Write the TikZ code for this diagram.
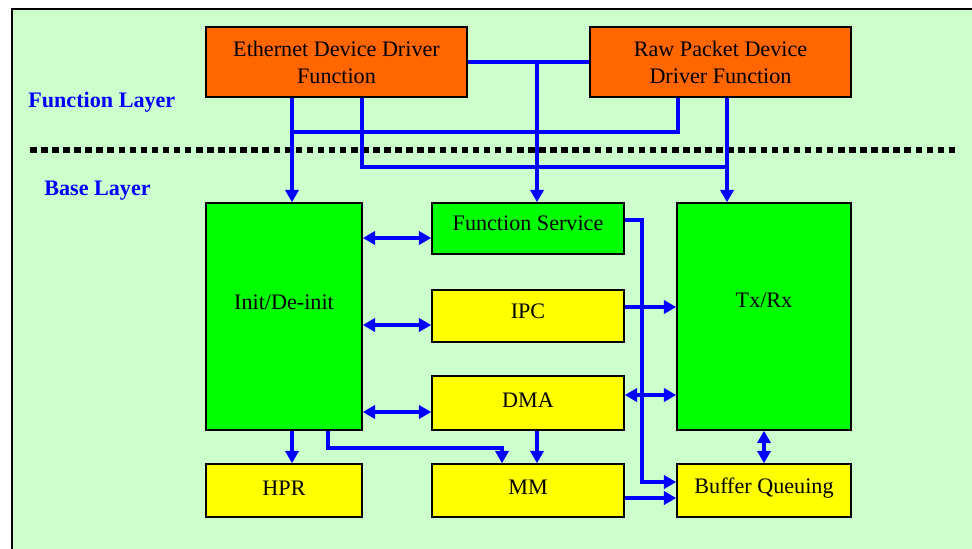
\documentclass[tikz,border=0pt]{standalone}
\usepackage{fontspec}
\setmainfont{Liberation Serif}
\usetikzlibrary{arrows.meta}
\definecolor{bggreen}{HTML}{CCFFCC}
\definecolor{drvorange}{HTML}{FF6600}
\definecolor{modgreen}{HTML}{00FF00}
\definecolor{modyellow}{HTML}{FFFF00}
\tikzset{
    every node/.style={font=\fontsize{12.6}{15.3}\selectfont, align=center,
    	inner sep=0pt}
}
\tikzset{
    blk/.style 2 args={draw, line width=0.9pt, minimum width=#1,
    	minimum height=#2}
}
\tikzset{
    wire/.style={draw=blue, line width=2pt,
    	arrows={-Triangle[length=7pt,width=7.5pt]}},
    fat/.style={line width=2.6pt},
    both/.style={arrows={Triangle[length=7pt,width=7.5pt]-Triangle[length=7pt,width=7.5pt]}},
    plain/.style={arrows={-}},
    layer/.style={text=blue, font=\fontsize{12.6}{15.3}\selectfont\bfseries,
    	anchor=west}
}

\begin{document}
\begin{tikzpicture}[x=0.02cm, y=-0.02cm]
  \useasboundingbox (0,0) rectangle (972,548);
  \draw [line width=1.2pt, fill=bggreen] (12,9) rectangle (1000,580);

  \node (eth) [blk={5.22cm}{1.4cm}, fill=drvorange,
  	label={center:Ethernet Device Driver\\Function}] at (336.5, 62) {};
  \node (raw) [blk={5.22cm}{1.4cm}, fill=drvorange,
  	label={center:Raw Packet Device\\Driver Function}] at (720.5, 62) {};
  \node (fl) [layer] at (28, 102.5) {Function Layer};
  \node (bl) [layer] at (44, 190.5) {Base Layer};
  \draw [line width=3.7pt, dash pattern=on 3.7pt off 2.6pt] (30,150) -- (957,150);

  \node (init) [blk={3.12cm}{4.54cm}, fill=modgreen,
  	label={[yshift=7.9pt]center:Init/De-init}] at (284, 316.5) {};
  \node (fs) [blk={3.84cm}{1.02cm}, fill=modgreen,
  	label={[yshift=3pt]center:Function Service}] at (528, 228.5) {};
  \node (ipc) [blk={3.84cm}{1.04cm}, fill=modyellow,
  	label={[yshift=2.8pt]center:IPC}] at (528, 316) {};
  \node (dma) [blk={3.84cm}{1.08cm}, fill=modyellow,
  	label={[yshift=1.7pt]center:DMA}] at (528, 403) {};
  \node (txrx) [blk={3.48cm}{4.54cm}, fill=modgreen,
  	label={[yshift=9pt]center:Tx/Rx}] at (764, 316.5) {};
  \node (hpr) [blk={3.12cm}{1.06cm}, fill=modyellow,
  	label={[yshift=1.4pt]center:HPR}] at (284, 490.5) {};
  \node (mm) [blk={3.84cm}{1.06cm}, fill=modyellow,
  	label={[yshift=2pt]center:MM}] at (528, 490.5) {};
  \node (bq) [blk={3.48cm}{1.06cm}, fill=modyellow,
  	label={[yshift=1.2pt]center:Buffer Queuing}] at (764, 490.5) {};

  \coordinate (jfs) at (537, 62);
  \draw [wire, plain] (eth.east) -- (raw.west);
  \draw [wire] (jfs) -- (fs.north -| jfs);
  \draw [wire] (eth.south -| 292,0) -- (init.north -| 292,0);
  \draw [wire, plain] (eth.south -| 362,0) |- (727,167);
  \draw [wire] (raw.south -| 727,0) -- (txrx.north -| 727,0);
  \draw [wire, plain] (raw.south -| 678,0) |- (292,132);

  \draw [wire, fat, both] (init.east |- 0,238) -- (fs.west |- 0,238);
  \draw [wire, fat, both] (init.east |- 0,325) -- (ipc.west |- 0,325);
  \draw [wire, fat, both] (init.east |- 0,412) -- (dma.west |- 0,412);
  \draw [wire] (fs.east |- 0,220) -| (642,482) -- (bq.west |- 0,482);
  \draw [wire, fat] (ipc.east |- 0,307) -- (txrx.west |- 0,307);
  \draw [wire, fat, both] (dma.east |- 0,395) -- (txrx.west |- 0,395);
  \draw [wire, fat, both] (txrx.south) -- (bq.north);
  \draw [wire] (mm.east |- 0,498) -- (bq.west |- 0,498);
  \draw [wire] (init.south -| 292,0) -- (hpr.north -| 292,0);
  \draw [wire] (init.south -| 328,0) |- (502,448) -- (mm.north -| 502,0);
  \draw [wire, fat] (dma.south -| 537,0) -- (mm.north -| 537,0);
\end{tikzpicture}
\end{document}
